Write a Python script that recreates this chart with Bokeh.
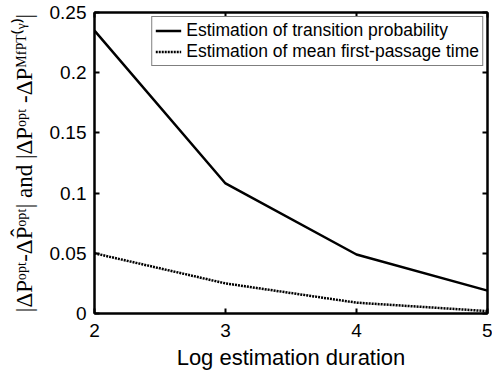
from bokeh.plotting import figure
from bokeh.models import LinearAxis, FixedTicker, Legend, LegendItem, Range1d
from bokeh.embed import file_html
from bokeh.resources import INLINE

log_duration = [2, 3, 4, 5]
transition_prob = [0.235, 0.108, 0.049, 0.019]
mfpt = [0.050, 0.025, 0.009, 0.002]
x_ticks = [2, 3, 4, 5]
y_ticks = [0, 0.05, 0.1, 0.15, 0.2, 0.25]
y_tick_labels = {0: "0", 0.05: "0.05", 0.1: "0.1", 0.15: "0.15", 0.2: "0.2", 0.25: "0.25"}

p = figure(width=492, height=381, output_backend="svg", toolbar_location=None,
           x_range=Range1d(2, 5), y_range=Range1d(0, 0.25),
           min_border_left=94, min_border_right=5, min_border_top=12, min_border_bottom=68)
p.background_fill_color = "white"
p.border_fill_color = "white"
p.outline_line_color = "black"
p.outline_line_width = 2
p.xgrid.visible = False
p.ygrid.visible = False

r1 = p.line(log_duration, transition_prob, line_color="black", line_width=2.5)
r2 = p.line(log_duration, mfpt, line_color="black", line_width=2.5, line_dash="2 1")

font = "Liberation Sans"
for ax in p.xaxis:
    ax.ticker = FixedTicker(ticks=x_ticks)
    ax.axis_label = "Log estimation duration"
    ax.axis_label_text_font = font
    ax.axis_label_text_font_style = "normal"
    ax.axis_label_text_font_size = "22px"
    ax.axis_label_text_color = "black"
    ax.axis_label_standoff = 5
    ax.major_label_text_font = font
    ax.major_label_text_font_size = "19px"
    ax.major_label_text_color = "black"
    ax.major_label_standoff = 10
    ax.major_tick_in = 5
    ax.major_tick_out = 0
    ax.minor_tick_line_color = None
    ax.axis_line_width = 2
    ax.axis_line_color = "black"
    ax.major_tick_line_width = 2

for ax in p.yaxis:
    ax.ticker = FixedTicker(ticks=y_ticks)
    ax.major_label_overrides = y_tick_labels
    ax.axis_label = "|ΔPᵒᵖᵗ-ΔP̂ᵒᵖᵗ| and |ΔPᵒᵖᵗ -ΔPᴹᶠᴾᵀ⁽ᵞ⁾|"
    ax.axis_label_text_font = "Liberation Serif"
    ax.axis_label_text_font_style = "normal"
    ax.axis_label_text_font_size = "23px"
    ax.axis_label_text_color = "black"
    ax.axis_label_standoff = 10
    ax.major_label_text_font = font
    ax.major_label_text_font_size = "19px"
    ax.major_label_text_color = "black"
    ax.major_label_standoff = 8
    ax.major_tick_in = 5
    ax.major_tick_out = 0
    ax.minor_tick_line_color = None
    ax.axis_line_width = 2
    ax.axis_line_color = "black"
    ax.major_tick_line_width = 2

top = LinearAxis(ticker=FixedTicker(ticks=x_ticks), major_label_text_font_size="0px",
                 major_tick_in=5, major_tick_out=0, minor_tick_line_color=None,
                 axis_line_width=2, major_tick_line_width=2)
right = LinearAxis(ticker=FixedTicker(ticks=y_ticks), major_label_text_font_size="0px",
                   major_tick_in=5, major_tick_out=0, minor_tick_line_color=None,
                   axis_line_width=2, major_tick_line_width=2)
top.major_label_text_color = None
right.major_label_text_color = None
p.add_layout(top, "above")
p.add_layout(right, "right")

legend = Legend(items=[
    LegendItem(label="Estimation of transition probability", renderers=[r1]),
    LegendItem(label="Estimation of mean first-passage time", renderers=[r2]),
], location="top_right")
legend.label_text_font = font
legend.label_text_font_size = "17.5px"
legend.label_text_color = "black"
legend.glyph_width = 26
legend.glyph_height = 19
legend.label_height = 19
legend.spacing = 0
legend.padding = 3
legend.margin = 4
legend.border_line_color = "black"
legend.border_line_width = 1
legend.label_standoff = 5
legend.background_fill_alpha = 1
p.add_layout(legend)

open("out.html", "w").write(file_html(p, INLINE))
